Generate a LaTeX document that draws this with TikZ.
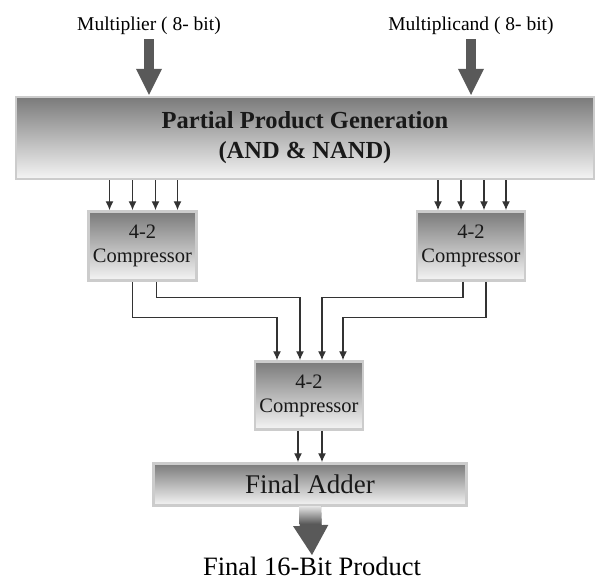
\documentclass[tikz,border=0pt]{standalone}
\usepackage{fontspec}
\setmainfont{Liberation Serif}
\usetikzlibrary{positioning, arrows.meta}
\tikzset{
  blk/.style={rectangle, draw=gray!40, line width=2.5pt, top color=black!52, bottom color=black!4, inner sep=2pt, align=center, text=black!90,
    path picture={\draw[gray!65, line width=2pt] (path picture bounding box.south west) -- (path picture bounding box.south east);}},
  sig/.style={draw=black!80, line width=1.4pt, -{Latex[length=9pt,width=8pt]}},
  fat/.style={draw=black!65, -{Triangle[length=27pt,width=24pt]}},
  lbl/.style={font=\fontsize{19.5}{22}\selectfont},
  cmpfont/.style={font=\fontsize{20.5}{24}\selectfont},
}

\begin{document}
\begin{tikzpicture}[x=1pt, y=-1pt]
  \useasboundingbox (0,0) rectangle (598,581);
  % inputs
  \node[lbl] (mplier) at (149,26) {Multiplier ( 8- bit)};
  \node[lbl] (mcand) at (471,26) {Multiplicand ( 8- bit)};
  \node[blk, minimum width=578pt, minimum height=82pt, font=\bfseries\fontsize{24.5}{30}\selectfont] (ppg) at (305,138) {Partial Product Generation\\(AND \& NAND)};
  \draw[fat, line width=10pt, shorten <=1pt] (mplier.south) -- (mplier.south |- ppg.north);
  \draw[fat, line width=10pt, shorten <=1pt] (mcand.south) -- (mcand.south |- ppg.north);
  % compressors
  \node[blk, cmpfont, minimum width=108pt, minimum height=69pt] (cl) at (142.5,246) {4-2\\Compressor};
  \node[blk, cmpfont, minimum width=108pt, minimum height=69pt] (cr) at (471,246) {4-2\\Compressor};
  \node[blk, cmpfont, minimum width=108pt, minimum height=68pt] (cm) at (309,395.5) {4-2\\Compressor};
  \foreach \dx in {-33,-10,13,35} {
    \draw[sig] ([xshift=\dx pt]cl.north |- ppg.south) -- ([xshift=\dx pt]cl.north);
    \draw[sig] ([xshift=\dx pt]cr.north |- ppg.south) -- ([xshift=\dx pt]cr.north);
  }
  \draw[sig] ([xshift=-10pt]cl.south) -- ++(0,36) -| ([xshift=-32pt]cm.north);
  \draw[sig] ([xshift=14pt]cl.south) -- ++(0,16) -| ([xshift=-9pt]cm.north);
  \draw[sig] ([xshift=-8pt]cr.south) -- ++(0,16) -| ([xshift=13pt]cm.north);
  \draw[sig] ([xshift=15pt]cr.south) -- ++(0,36) -| ([xshift=34pt]cm.north);
  % final adder
  \node[blk, minimum width=313pt, minimum height=42pt, font=\fontsize{27}{30}\selectfont] (fa) at (310,484.5) {Final Adder};
  \foreach \dx in {-11,13}
    \draw[sig] ([xshift=\dx pt]cm.south) -- ([xshift=\dx pt]cm.south |- fa.north);
  \node[font=\fontsize{26.5}{30}\selectfont, inner sep=1pt] (prod) at (312,566) {Final 16-Bit Product};
  \draw[fat, line width=22pt, -{Triangle[length=30pt,width=33pt]}] (fa.south) -- (prod.north);
  \shade[top color=black!12, bottom color=black!65] ([xshift=-11pt]fa.south) rectangle ([xshift=11pt,yshift=-17pt]fa.south);
\end{tikzpicture}
\end{document}
